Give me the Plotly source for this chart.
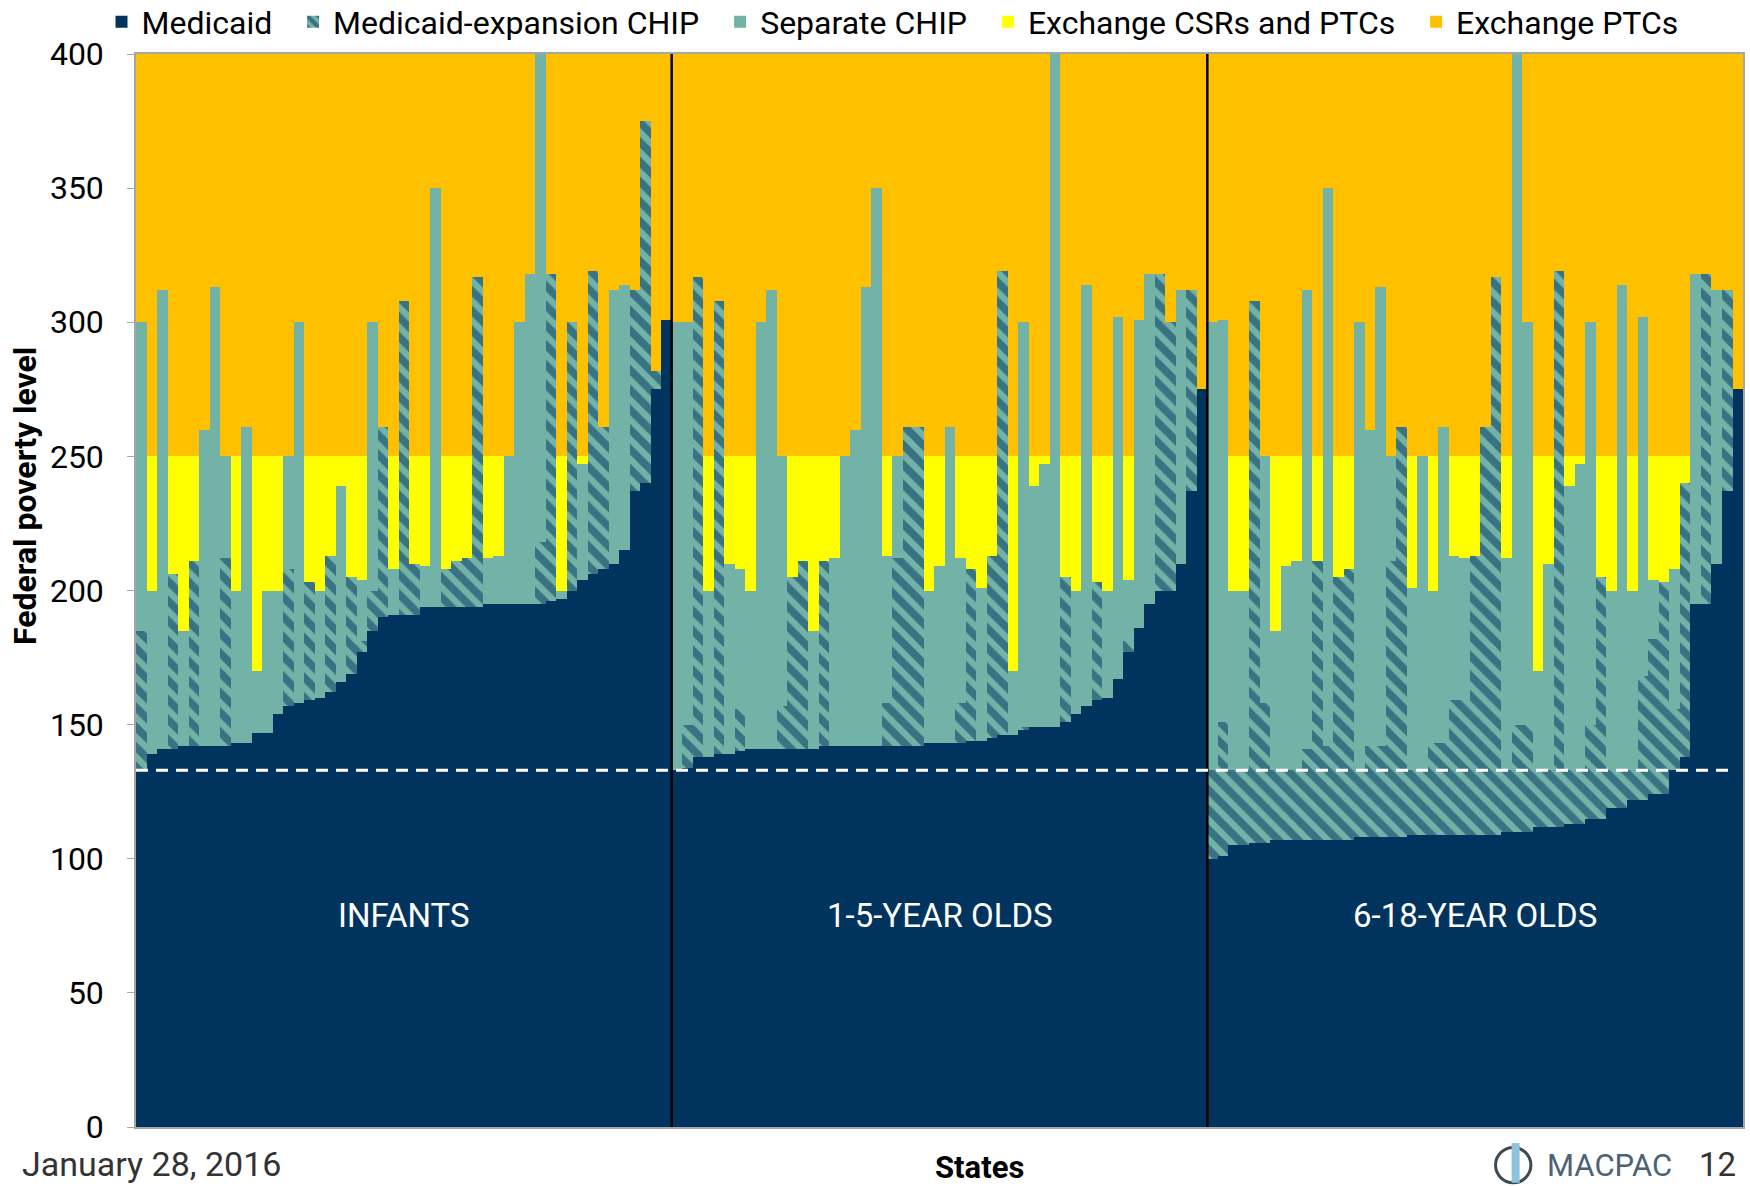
import plotly.graph_objects as go

# ---------------- data (upper limits, % of federal poverty level) ----------------
groups = ["INFANTS", "1-5-YEAR OLDS", "6-18-YEAR OLDS"]

infants_medicaid = [133, 139, 141, 141, 142, 142, 142, 142, 142, 143, 143, 147, 147, 154, 157, 158, 159,
                    160, 162, 166, 169, 177, 185, 190, 191, 191, 191, 194, 194, 194, 194, 194, 194, 195,
                    195, 195, 195, 195, 195, 196, 197, 200, 204, 206, 208, 210, 215, 237, 240, 275, 301]
infants_exp_chip = [185, 139, 141, 206, 142, 211, 142, 142, 212, 143, 143, 147, 147, 154, 208, 158, 203,
                    160, 213, 166, 205, 181, 200, 261, 191, 308, 210, 194, 194, 208, 211, 212, 317, 195,
                    195, 195, 195, 195, 218, 318, 197, 300, 204, 319, 261, 210, 215, 312, 375, 282, 301]
infants_sep_chip = [300, 200, 312, 206, 185, 211, 260, 313, 250, 200, 261, 170, 200, 200, 250, 300, 203,
                    200, 213, 239, 205, 204, 300, 261, 208, 308, 210, 209, 350, 208, 211, 212, 317, 212,
                    213, 250, 300, 318, 400, 318, 200, 300, 247, 319, 261, 312, 314, 312, 375, 282, 301]

young_medicaid = [133, 134, 138, 138, 139, 139, 140, 141, 141, 141, 141, 141, 141, 141, 142, 142, 142,
                  142, 142, 142, 142, 142, 142, 142, 143, 143, 143, 143, 144, 144, 145, 146, 146, 148,
                  149, 149, 149, 151, 154, 157, 159, 160, 167, 177, 186, 195, 200, 200, 210, 237, 275]
young_exp_chip = [133, 150, 317, 138, 308, 139, 156, 141, 141, 141, 157, 205, 211, 141, 211, 142, 142,
                  142, 142, 142, 158, 212, 261, 261, 143, 143, 143, 158, 208, 144, 213, 319, 146, 149,
                  149, 149, 149, 205, 154, 157, 203, 160, 167, 181, 186, 195, 318, 300, 210, 312, 275]
young_sep_chip = [300, 300, 317, 200, 308, 210, 208, 200, 300, 312, 250, 205, 211, 185, 211, 212, 250,
                  260, 313, 350, 213, 250, 261, 261, 200, 209, 261, 212, 208, 201, 213, 319, 170, 300,
                  239, 247, 400, 205, 200, 314, 203, 200, 302, 204, 301, 318, 318, 300, 312, 312, 275]

older_medicaid = [100, 101, 105, 105, 106, 106, 107, 107, 107, 107, 107, 107, 107, 107, 108, 108, 108,
                  108, 108, 109, 109, 109, 109, 109, 109, 109, 109, 109, 110, 110, 110, 112, 112, 112,
                  113, 113, 115, 115, 119, 119, 122, 122, 124, 124, 133, 138, 195, 195, 210, 237, 275]
older_exp_chip = [133, 151, 133, 133, 308, 158, 133, 133, 133, 141, 211, 142, 205, 208, 133, 142, 142,
                  211, 261, 133, 133, 143, 143, 159, 159, 213, 261, 317, 133, 150, 150, 133, 133, 319,
                  133, 133, 150, 205, 133, 133, 133, 168, 182, 203, 156, 240, 195, 318, 210, 312, 275]
older_sep_chip = [300, 301, 200, 200, 308, 250, 185, 209, 211, 312, 211, 350, 205, 208, 300, 260, 313,
                  250, 261, 201, 250, 200, 261, 213, 212, 213, 261, 317, 212, 400, 300, 170, 210, 319,
                  239, 247, 300, 205, 200, 314, 200, 302, 204, 203, 208, 240, 318, 318, 312, 312, 275]

csr_limit = 250          # Exchange CSRs available up to 250% FPL
ptc_limit = 400          # Exchange PTCs available up to 400% FPL
adult_line = 133         # dashed reference line

y_ticks = [0, 50, 100, 150, 200, 250, 300, 350, 400]

# ---------------- build stacked segments ----------------
medicaid = infants_medicaid + young_medicaid + older_medicaid
exp_top = infants_exp_chip + young_exp_chip + older_exp_chip
sep_top = infants_sep_chip + young_sep_chip + older_sep_chip
n_per_group = len(infants_medicaid)
x = list(range(len(medicaid)))

seg_med = medicaid
seg_exp = [e - m for m, e in zip(medicaid, exp_top)]
seg_sep = [s - e for e, s in zip(exp_top, sep_top)]
seg_csr = [max(0, csr_limit - s) for s in sep_top]
seg_ptc = [ptc_limit - max(s, csr_limit) for s in sep_top]

NAVY = "#00345F"
TEAL = "#72B2A7"
YELLOW = "#FFFF00"
ORANGE = "#FFC000"
FONT = "Roboto"
SP = "\u00a0\u00a0"   # extra spacing between legend entries

fig = go.Figure()
fig.add_trace(go.Bar(x=x, y=seg_med, name="Medicaid" + SP, width=1,
                     marker=dict(color=NAVY, line=dict(width=0))))
fig.add_trace(go.Bar(x=x, y=seg_exp, name="Medicaid-expansion CHIP" + SP, width=1,
                     marker=dict(color=TEAL, line=dict(width=0),
                                 pattern=dict(shape="\\", fgcolor=NAVY, bgcolor=TEAL,
                                              size=14, solidity=0.55, fillmode="overlay"))))
fig.add_trace(go.Bar(x=x, y=seg_sep, name="Separate CHIP" + SP, width=1,
                     marker=dict(color=TEAL, line=dict(width=0))))
fig.add_trace(go.Bar(x=x, y=seg_csr, name="Exchange CSRs and PTCs" + SP, width=1,
                     marker=dict(color=YELLOW, line=dict(width=0))))
fig.add_trace(go.Bar(x=x, y=seg_ptc, name="Exchange PTCs", width=1,
                     marker=dict(color=ORANGE, line=dict(width=0))))

# group separators
for g in range(1, len(groups)):
    fig.add_shape(type="line", xref="x", yref="y",
                  x0=g * n_per_group - 0.5, x1=g * n_per_group - 0.5, y0=0, y1=ptc_limit,
                  line=dict(color="black", width=2.5), layer="above")

# dashed 133% line
fig.add_shape(type="line", xref="paper", yref="y", x0=0, x1=0.992, y0=adult_line, y1=adult_line,
              line=dict(color="white", width=3, dash="12px,8px"), layer="above")

# group labels
for g, label in enumerate(groups):
    fig.add_annotation(x=g * n_per_group + (n_per_group - 1) / 2, y=79, xref="x", yref="y",
                       text=label, showarrow=False,
                       font=dict(family=FONT, size=33, color="white"))

# y-axis title
fig.add_annotation(xref="paper", yref="paper", x=-0.0694, xanchor="center", y=0.5885, yanchor="middle",
                   textangle=-90, text="<b>Federal poverty level</b>", showarrow=False,
                   font=dict(family=FONT, size=32, color="black"))
# x-axis title
fig.add_annotation(xref="paper", yref="paper", x=0.525, xanchor="center", y=-0.0565, yanchor="bottom",
                   text="<b>States</b>", showarrow=False,
                   font=dict(family=FONT, size=31, color="black"))
# footer
fig.add_annotation(xref="paper", yref="paper", x=-0.0722, xanchor="left", y=-0.055, yanchor="bottom",
                   text="January 28, 2016", showarrow=False,
                   font=dict(family=FONT, size=34, color="#333333"))
fig.add_annotation(xref="paper", yref="paper", x=0.877, xanchor="left", y=-0.055, yanchor="bottom",
                   text="MACPAC", showarrow=False,
                   font=dict(family=FONT, size=31, color="#4d6275"))
fig.add_annotation(xref="paper", yref="paper", x=0.997, xanchor="right", y=-0.055, yanchor="bottom",
                   text="12", showarrow=False,
                   font=dict(family=FONT, size=33, color="#333333"))
# small logo mark
fig.add_shape(type="circle", xref="paper", yref="paper", x0=0.846, x1=0.868, y0=-0.052, y1=-0.019,
              line=dict(color="#3d4a55", width=3))
fig.add_shape(type="rect", xref="paper", yref="paper", x0=0.856, x1=0.861, y0=-0.052, y1=-0.015,
              line=dict(width=0), fillcolor="#8ec3dc")

fig.update_layout(
    width=1750, height=1186,
    margin=dict(l=136, r=7, t=54, b=59, autoexpand=False),
    barmode="stack", bargap=0, bargroupgap=0,
    plot_bgcolor="white", paper_bgcolor="white",
    font=dict(family=FONT, size=32, color="black"),
    legend=dict(orientation="h", xref="container", yref="container",
                x=0.058, xanchor="left", y=0.9815, yanchor="middle",
                font=dict(family=FONT, size=32, color="black"),
                traceorder="normal", itemwidth=30, tracegroupgap=0,
                bgcolor="rgba(0,0,0,0)"),
    showlegend=True,
)
fig.update_xaxes(range=[-0.5, len(x) - 0.5], showticklabels=False, ticks="",
                 showgrid=False, zeroline=False, showline=True, linecolor="#A6A6A6",
                 linewidth=1.5, mirror=True)
fig.update_yaxes(range=[0, ptc_limit], tickvals=y_ticks, ticks="outside", ticklen=7,
                 tickcolor="#A6A6A6", showgrid=False, zeroline=False, showline=True,
                 linecolor="#A6A6A6", linewidth=1.5, mirror=True,
                 tickfont=dict(family=FONT, size=32, color="black"), ticklabelstandoff=17)

# remove the default page margin so the 1750x1186 figure fills the window exactly
fig.write_html("out.html", config={"displayModeBar": False},
               post_script="document.body.style.margin='0px';")
